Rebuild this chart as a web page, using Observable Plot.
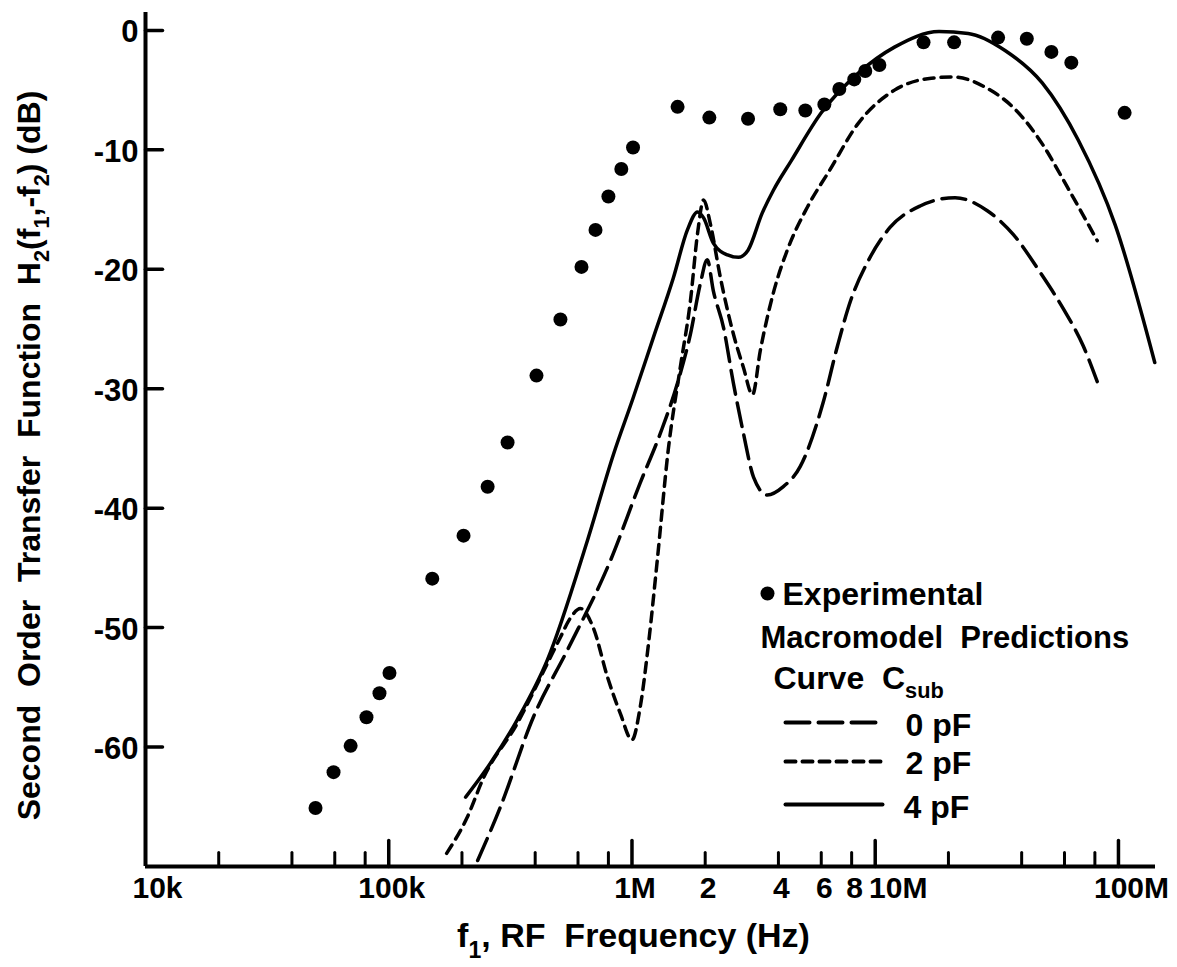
<!DOCTYPE html>
<html><head><meta charset="utf-8">
<script src="https://cdn.jsdelivr.net/npm/d3@7"></script>
<script src="https://cdn.jsdelivr.net/npm/@observablehq/plot@0.6"></script>
<style>
html,body{margin:0;padding:0;background:#fff;}
svg text{white-space:pre;}
</style>
</head><body><div id="chart"></div>
<script>
// ---- Experimental points (frequency in Hz, dB)
const expFreq = [50e3, 59.3e3, 69.7e3, 81e3, 91.6e3, 100.7e3, 151e3, 203e3, 255e3, 308e3, 405e3, 508e3, 620e3, 708e3, 800e3, 904e3, 1.01e6, 1.54e6, 2.08e6, 3.0e6, 4.07e6, 5.16e6, 6.18e6, 7.12e6, 8.2e6, 9.1e6, 10.4e6, 15.8e6, 21.1e6, 32e6, 42e6, 53e6, 64e6, 106e6];
const expDb = [-65.1, -62.1, -59.9, -57.5, -55.5, -53.8, -45.9, -42.3, -38.2, -34.5, -28.9, -24.2, -19.8, -16.7, -13.9, -11.6, -9.8, -6.4, -7.3, -7.4, -6.6, -6.7, -6.2, -4.9, -4.1, -3.4, -2.9, -1.0, -1.0, -0.6, -0.7, -1.8, -2.7, -6.9];

// ---- Macromodel predictions, C_sub = 0 pF (long dash)
const c0Freq = [232e3, 288e3, 393e3, 542e3, 815e3, 1.08e6, 1.31e6, 1.54e6, 1.74e6, 1.91e6, 2.04e6, 2.16e6, 2.38e6, 2.61e6, 2.87e6, 3.16e6, 3.6e6, 4.19e6, 4.92e6, 6.1e6, 7.0e6, 7.9e6, 9.3e6, 11.5e6, 15.3e6, 21.3e6, 28.9e6, 37e6, 47.8e6, 59.3e6, 71.6e6, 81.8e6];
const c0Db = [-69.5, -65.0, -57.5, -51.9, -44.4, -37.9, -33.7, -29.5, -25.4, -21.2, -19.2, -21.8, -24.9, -29.5, -33.7, -37.4, -38.9, -38.2, -36.5, -31.2, -26.4, -22.7, -19.4, -16.5, -14.7, -14.0, -15.1, -17.1, -20.3, -23.3, -26.4, -29.4];

// ---- C_sub = 2 pF (short dash)
const c2Freq = [173e3, 210e3, 245e3, 338e3, 449e3, 508e3, 558e3, 614e3, 693e3, 792e3, 896e3, 1.0e6, 1.08e6, 1.17e6, 1.27e6, 1.41e6, 1.58e6, 1.74e6, 1.86e6, 1.97e6, 2.10e6, 2.31e6, 2.61e6, 2.87e6, 3.13e6, 3.37e6, 3.81e6, 4.35e6, 5.26e6, 6.5e6, 8.5e6, 12.0e6, 17.0e6, 20.9e6, 28.6e6, 38e6, 48.6e6, 61.6e6, 81.8e6];
const c2Db = [-68.9, -65.9, -62.6, -58.0, -53.0, -50.8, -49.2, -48.4, -50.0, -54.1, -57.2, -59.4, -56.7, -51.3, -44.4, -35.1, -28.2, -22.6, -17.0, -14.2, -16.2, -20.7, -25.4, -28.2, -30.5, -26.8, -22.0, -18.4, -14.8, -11.7, -7.8, -5.0, -4.0, -3.9, -4.8, -6.7, -9.5, -13.1, -17.6];

// ---- C_sub = 4 pF (solid)
const c4Freq = [207e3, 245e3, 338e3, 449e3, 656e3, 839e3, 1.01e6, 1.225e6, 1.48e6, 1.69e6, 1.86e6, 1.97e6, 2.16e6, 2.47e6, 2.74e6, 3.0e6, 3.43e6, 3.81e6, 4.52e6, 6.0e6, 8.5e6, 12.0e6, 18.3e6, 24.1e6, 34.3e6, 48.6e6, 68.4e6, 97e6, 141e6];
const c4Db = [-64.2, -62.2, -57.7, -52.7, -42.7, -35.5, -30.8, -25.7, -20.7, -16.7, -15.2, -15.7, -17.8, -18.8, -19.0, -18.4, -15.3, -13.4, -10.9, -6.9, -3.6, -1.4, -0.1, -0.25, -1.7, -4.4, -9.2, -16.3, -27.8];

// ---- Axes
const xDomain = [1e4, 1.42e8];
const yDomain = [-70, 1.5];
const yTicks = [0, -10, -20, -30, -40, -50, -60];
const xMajor = [1e5, 1e6, 1e7, 1e8];
const xMinor = [2e4, 4e4, 6e4, 8e4, 2e5, 4e5, 6e5, 8e5, 2e6, 4e6, 6e6, 8e6, 2e7, 4e7, 6e7, 8e7];
const xLabelMid = [1e5, 1e6, 2e6, 4e6, 6e6, 8e6];
const xLabelMidText = ["100k", "1M", "2", "4", "6", "8"];
const xTitle = "f_{1}, RF  Frequency (Hz)";
const yTitle = "Second  Order  Transfer  Function  H_{2}(f_{1},-f_{2}) (dB)";
const legendTitle1 = "Experimental";
const legendTitle2 = "Macromodel  Predictions";
const legendTitle3 = "Curve  C_{sub}";
const legendLabels = ["0 pF", "2 pF", "4 pF"];

const toRows = (fs, ds) => fs.map((f, i) => ({f, db: ds[i]}));
const expRows = toRows(expFreq, expDb);
const c0 = toRows(c0Freq, c0Db);
const c2 = toRows(c2Freq, c2Db);
const c4 = toRows(c4Freq, c4Db);

const lineShape = {draw(ctx, l) { ctx.moveTo(0, 0); ctx.lineTo(0, -l); }};
const FONT = "'Liberation Sans', Arial, sans-serif";
const dash0 = "24,9", dash2 = "10,7";

const chart = Plot.plot({
  width: 1177, height: 967,
  marginLeft: 145, marginRight: 22, marginTop: 12, marginBottom: 101,
  x: {type: "log", domain: xDomain, axis: null},
  y: {domain: yDomain, axis: null},
  style: {fontFamily: FONT, fontWeight: "bold", background: "white", color: "black", overflow: "visible"},
  marks: [
    // axis lines
    Plot.ruleX([xDomain[0]], {y1: yDomain[0], y2: yDomain[1], strokeWidth: 4}),
    Plot.ruleY([yDomain[0]], {x1: xDomain[0], x2: xDomain[1], strokeWidth: 4}),
    // ticks (inward)
    Plot.vector(xMajor, {x: d => d, y: () => yDomain[0], length: 26, rotate: 0, anchor: "start", shape: lineShape, strokeWidth: 3.5}),
    Plot.vector(xMinor, {x: d => d, y: () => yDomain[0], length: 14, rotate: 0, anchor: "start", shape: lineShape, strokeWidth: 3}),
    Plot.vector(yTicks, {x: () => xDomain[0], y: d => d, length: 17, rotate: 90, anchor: "start", shape: lineShape, strokeWidth: 3.5}),
    // tick labels
    Plot.text(yTicks, {x: () => xDomain[0], y: d => d, text: d => String(d), textAnchor: "end", dx: -7, dy: 2, fontSize: 31}),
    Plot.text(xLabelMid, {x: d => d, y: () => yDomain[0], text: (d, i) => xLabelMidText[i], dy: 22, dx: 3, fontSize: 30}),
    Plot.text([1e4], {x: d => d, y: () => yDomain[0], text: () => "10k", dy: 22, dx: 12, fontSize: 30}),
    Plot.text([1e7], {x: d => d, y: () => yDomain[0], text: () => "10M", dy: 22, dx: 23, fontSize: 30}),
    Plot.text([1e8], {x: d => d, y: () => yDomain[0], text: () => "100M", dy: 22, dx: 13, fontSize: 30}),
    // axis titles
    Plot.text([xTitle], {frameAnchor: "bottom", text: d => d, textAnchor: "middle", lineAnchor: "middle", dx: -17, dy: 70, fontSize: 34}),
    Plot.text([yTitle], {frameAnchor: "left", text: d => d, textAnchor: "middle", lineAnchor: "middle", rotate: -90, dx: -116, dy: 16, fontSize: 32}),
    // curves
    Plot.line(c0, {x: "f", y: "db", curve: "monotone-x", strokeWidth: 3.5, strokeDasharray: dash0}),
    Plot.line(c2, {x: "f", y: "db", curve: "monotone-x", strokeWidth: 3.5, strokeDasharray: dash2}),
    Plot.line(c4, {x: "f", y: "db", curve: "monotone-x", strokeWidth: 3.5}),
    Plot.dot(expRows, {x: "f", y: "db", r: 7, fill: "black", stroke: null}),
    // legend
    Plot.dot([legendTitle1], {frameAnchor: "top-left", dx: 622, dy: 581, r: 7, fill: "black"}),
    Plot.text([legendTitle1], {frameAnchor: "top-left", text: d => d, textAnchor: "start", lineAnchor: "bottom", dx: 637, dy: 592, fontSize: 32}),
    Plot.text([legendTitle2], {frameAnchor: "top-left", text: d => d, textAnchor: "start", lineAnchor: "bottom", dx: 615, dy: 635, fontSize: 31}),
    Plot.text([legendTitle3], {frameAnchor: "top-left", text: d => d, textAnchor: "start", lineAnchor: "bottom", dx: 628, dy: 676, fontSize: 32}),
    Plot.vector([legendLabels[0]], {frameAnchor: "top-left", dx: 640, dy: 710, length: 97, rotate: 90, anchor: "start", shape: lineShape, strokeWidth: 4, strokeDasharray: dash0}),
    Plot.vector([legendLabels[1]], {frameAnchor: "top-left", dx: 640, dy: 749, length: 97, rotate: 90, anchor: "start", shape: lineShape, strokeWidth: 4, strokeDasharray: dash2}),
    Plot.vector([legendLabels[2]], {frameAnchor: "top-left", dx: 640, dy: 792, length: 97, rotate: 90, anchor: "start", shape: lineShape, strokeWidth: 4}),
    Plot.text([legendLabels[0]], {frameAnchor: "top-left", text: d => d, textAnchor: "start", lineAnchor: "bottom", dx: 760, dy: 723, fontSize: 32}),
    Plot.text([legendLabels[1]], {frameAnchor: "top-left", text: d => d, textAnchor: "start", lineAnchor: "bottom", dx: 760, dy: 761, fontSize: 32}),
    Plot.text([legendLabels[2]], {frameAnchor: "top-left", text: d => d, textAnchor: "start", lineAnchor: "bottom", dx: 758, dy: 805, fontSize: 32})
  ]
});
document.getElementById("chart").appendChild(chart);

// subscripts: turn "_{...}" into lowered, smaller tspans
(function subscripts(svg) {
  const ns = "http://www.w3.org/2000/svg";
  svg.querySelectorAll("text").forEach(t => {
    const s = t.textContent;
    if (!s.includes("_{")) return;
    const fs = parseFloat(getComputedStyle(t).fontSize) || 30;
    const shift = fs * 0.3;
    t.textContent = "";
    let lowered = false;
    const add = (str, sub) => {
      const sp = document.createElementNS(ns, "tspan");
      sp.textContent = str;
      if (sub && !lowered) { sp.setAttribute("dy", shift); lowered = true; }
      else if (!sub && lowered) { sp.setAttribute("dy", -shift); lowered = false; }
      if (sub) sp.setAttribute("font-size", fs * 0.68);
      t.appendChild(sp);
    };
    const re = /_\{([^}]*)\}/g;
    let last = 0, m;
    while ((m = re.exec(s))) {
      if (m.index > last) add(s.slice(last, m.index), false);
      add(m[1], true);
      last = re.lastIndex;
    }
    if (last < s.length) add(s.slice(last), false);
  });
})(chart);
</script>
</body></html>
